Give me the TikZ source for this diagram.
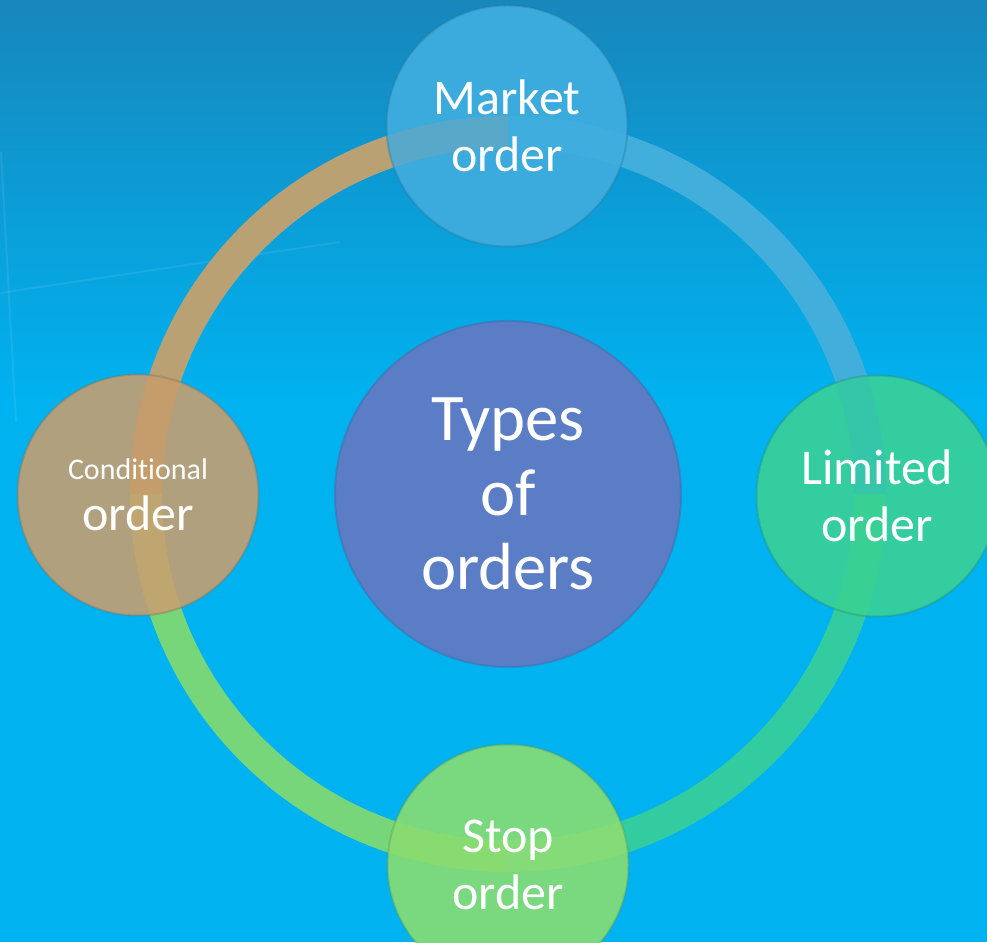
\documentclass[tikz,border=0pt]{standalone}
\usepackage{fontspec}
\setmainfont{Carlito}[Ligatures=NoCommon]
\usepackage{tikz}

\definecolor{fondhaut}{HTML}{1787BC}
\definecolor{fondbas}{HTML}{00B2F0}
\definecolor{centre}{HTML}{5B7DC5}
\definecolor{bleumarche}{HTML}{3BAADD}
\definecolor{vertlimite}{HTML}{33CDA0}
\definecolor{vertstop}{HTML}{7AD87E}
\definecolor{beigecond}{HTML}{B1A07E}
\definecolor{anneaubleu}{HTML}{42AEDB}
\definecolor{anneaubeige}{HTML}{B9A174}
\definecolor{anneauvert}{HTML}{78D67A}
\definecolor{anneausarcelle}{HTML}{33CCA0}
% les couleurs de l'anneau vu a travers les pastilles
\definecolor{refletA}{HTML}{49B3E1}
\definecolor{refletB}{HTML}{8DA6A6}
\definecolor{refletC}{HTML}{EB9A4E}
\definecolor{refletD}{HTML}{DBB25A}
\definecolor{refletE}{HTML}{A4E35B}
\definecolor{refletF}{HTML}{98E36A}
\definecolor{refletG}{HTML}{46D67E}
\definecolor{refletH}{HTML}{3BBBBD}

\tikzset{
  anneau/.style={line width=24pt},
  pastille/.style={circle, minimum size=180.75pt, text=white, align=center,
    font=\fontsize{37.5}{43}\selectfont, line width=1.5pt, draw opacity=0.35},
  reflet/.style n args={4}{path picture={
    \draw[anneau, draw=#2] (hub.center) ++(#1:271.5pt) arc[start angle=#1, delta angle=45, radius=271.5pt];
    \draw[anneau, draw=#4] (hub.center) ++(#3:271.5pt) arc[start angle=#3, delta angle=45, radius=271.5pt];
  }}
}

\begin{document}
\begin{tikzpicture}[x=0.75pt, y=0.75pt]

% Le fond
\useasboundingbox (0,0) rectangle (987,942);
\fill[fondbas] (0,0) rectangle (987,942);
\shade[top color=fondhaut, bottom color=fondbas] (0,540) rectangle (987,942);
\draw[white, opacity=0.08, line width=1.5pt] (1,790) -- (16,520);
\draw[white, opacity=0.08, line width=1.5pt] (0,649) -- (340,700);

% Le cercle central
\node[circle, fill=centre, draw=centre!75!black, draw opacity=0.35, line width=1.5pt,
  minimum size=259.5pt, text=white, align=center, font=\fontsize{50}{56}\selectfont]
  (hub) at (508,448) {Types\\of\\orders};

% L'anneau autour
\foreach \a/\c in {0/anneaubleu, 90/anneaubeige, 180/anneauvert, 270/anneausarcelle}
\draw[anneau, draw=\c] (hub.center) ++(\a:271.5pt) arc[start angle=\a, delta angle=90, radius=271.5pt];

% Les quatre pastilles
\node[pastille, fill=bleumarche, draw=bleumarche!70!black,
  reflet={45}{refletA}{90}{refletB}] (mkt) at (507,816) {Market\\order};
\node[pastille, fill=vertlimite, draw=vertlimite!70!black,
  reflet={315}{refletG}{0}{refletH}] (lim) at (877,446) {Limited\\order};
\node[pastille, fill=vertstop, draw=vertstop!70!black,
  reflet={225}{refletE}{270}{refletF}] (stp) at (508,77) {Stop\\order};
\node[pastille, fill=beigecond, draw=beigecond!70!black,
  reflet={135}{refletC}{180}{refletD}] (cond) at (138,447)
  {{\fontsize{22.5}{27}\selectfont Conditional}\\[-5pt]order};

\end{tikzpicture}
\end{document}
